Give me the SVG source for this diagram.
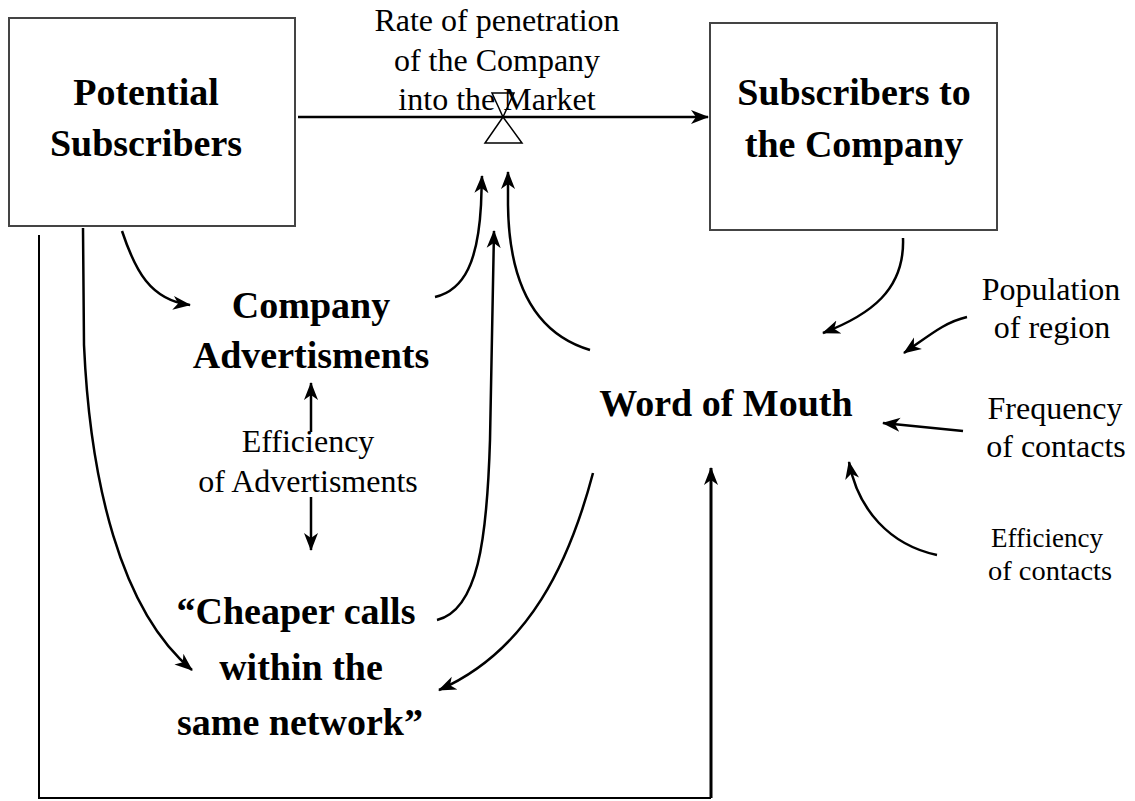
<svg xmlns="http://www.w3.org/2000/svg" width="1135" height="801" viewBox="0 0 1135 801">
<style>
.box{fill:#fff;stroke:#444;stroke-width:2}
.b{font-family:"Liberation Serif",serif;font-weight:bold;font-size:38px;fill:#000;text-anchor:middle}
.r{font-family:"Liberation Serif",serif;font-size:32px;fill:#000;text-anchor:middle}
.s{font-family:"Liberation Serif",serif;font-size:28px;fill:#000;text-anchor:middle}
.c{fill:none;stroke:#000;stroke-width:2.5}
</style>
<defs>
<marker id="ah" markerUnits="userSpaceOnUse" markerWidth="20" markerHeight="16" refX="17" refY="8" orient="auto">
<path d="M0,1 L18,8 L0,15 L5,8 Z" fill="#000"/>
</marker>
</defs>
<rect width="1135" height="801" fill="#fff"/>
<g id="connectors">
<line class="c" x1="298" y1="117" x2="708" y2="117" marker-end="url(#ah)"/>
<path class="c" d="M435,297 C465,290 478,260 481,205 L482,176" marker-end="url(#ah)"/>
<path class="c" d="M590,350 C540,335 509,290 508,205 L508,172" marker-end="url(#ah)"/>
<path class="c" d="M437,620 C478,610 487,540 490,440 L494,231" marker-end="url(#ah)"/>
<path class="c" d="M122,231 C135,270 150,300 190,305" marker-end="url(#ah)"/>
<path class="c" d="M83,228 L84,345 C90,480 120,610 192,670" marker-end="url(#ah)"/>
<path class="c" d="M593,473 C570,560 530,650 439,690" marker-end="url(#ah)"/>
<line class="c" x1="311" y1="432" x2="311" y2="383" marker-end="url(#ah)"/>
<line class="c" x1="311" y1="497" x2="311" y2="550" marker-end="url(#ah)"/>
<path class="c" d="M903,238 C905,290 870,315 823,333" marker-end="url(#ah)"/>
<path class="c" d="M967,317 C945,322 930,335 904,353" marker-end="url(#ah)"/>
<path class="c" d="M963,431 L883,423" marker-end="url(#ah)"/>
<path class="c" d="M937,555 C890,545 858,510 849,462" marker-end="url(#ah)"/>
<polyline fill="none" stroke="#000" stroke-width="2" points="39,235 39,798 711,798"/>
<line x1="711" y1="798" x2="711" y2="468" stroke="#000" stroke-width="3" marker-end="url(#ah)"/>
</g>
<g id="valve">
<path d="M492,93 L514,93 L503,117 Z" fill="none" stroke="#000" stroke-width="1.5"/>
<path d="M503,117 L485,143 L522,143 Z" fill="#fff" stroke="#000" stroke-width="1.5"/>
</g>
<g id="potential-subscribers">
<rect class="box" x="9" y="18" width="286" height="208"/>
<text class="b" x="146" y="105">Potential</text>
<text class="b" x="146" y="156">Subscribers</text>
</g>
<g id="subscribers-company">
<rect class="box" x="710" y="23" width="287" height="207"/>
<text class="b" x="854" y="105">Subscribers to</text>
<text class="b" x="854" y="157">the Company</text>
</g>
<g id="rate">
<text class="r" x="497" y="31">Rate of penetration</text>
<text class="r" x="497" y="71">of the Company</text>
<text class="r" x="497" y="110">into the Market</text>
</g>
<g id="company-ads">
<text class="b" x="311" y="318">Company</text>
<text class="b" x="311" y="368">Advertisments</text>
</g>
<g id="efficiency-ads">
<text class="r" x="308" y="452">Efficiency</text>
<text class="r" x="308" y="492">of Advertisments</text>
</g>
<g id="cheaper-calls">
<text class="b" x="296" y="624">“Cheaper calls</text>
<text class="b" x="301" y="680">within the</text>
<text class="b" x="300" y="735">same network”</text>
</g>
<g id="word-of-mouth">
<text class="b" x="726" y="416">Word of Mouth</text>
</g>
<g id="population">
<text class="r" x="1051" y="300">Population</text>
<text class="r" x="1052" y="338">of region</text>
</g>
<g id="frequency">
<text class="r" x="1055" y="419">Frequency</text>
<text class="r" x="1056" y="457">of contacts</text>
</g>
<g id="efficiency-contacts">
<text class="s" x="1047" y="547" textLength="112" lengthAdjust="spacingAndGlyphs">Efficiency</text>
<text class="s" x="1050" y="580" textLength="124" lengthAdjust="spacingAndGlyphs">of contacts</text>
</g>
</svg>
